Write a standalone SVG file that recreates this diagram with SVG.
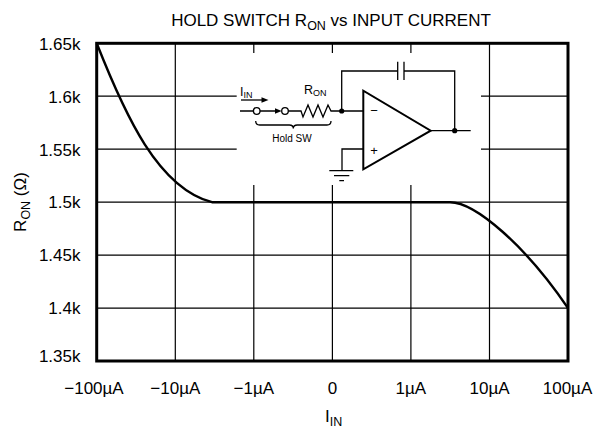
<svg xmlns="http://www.w3.org/2000/svg" width="596" height="432" viewBox="0 0 596 432">
<style>
text{font-family:"Liberation Sans",Arial,sans-serif;fill:#000}
.tk{font-size:17px}
.yt{text-anchor:end}
.xt{text-anchor:middle}
.grid{stroke:#000;stroke-width:1.2;fill:none}
.frame{stroke:#000;stroke-width:3;fill:none}
.curve{stroke:#000;stroke-width:2.4;fill:none}
.w{stroke:#000;stroke-width:1.3;fill:none}
.oa{stroke:#000;stroke-width:2;fill:none}
.dot{fill:#000}
</style>
<rect width="596" height="432" fill="#fff"/>
<text x="331" y="25.5" font-size="17" text-anchor="middle">HOLD SWITCH R<tspan font-size="12.5" dy="4">ON</tspan><tspan dy="-4"> vs INPUT CURRENT</tspan></text>
<g id="grid">
<path class="grid" d="M175.3,43.3V361M489.5,43.3V361M253.8,43.3V53M332.4,43.3V53M410.9,43.3V53M253.8,185V361M332.4,185V361M410.9,185V361"/>
<path class="grid" d="M96.7,96.2H236.7M481,96.2H568M96.7,149.2H236.7M481,149.2H568M96.7,202.2H568M96.7,255.1H568M96.7,308.1H568"/>
<rect class="frame" x="96.7" y="43.3" width="471.3" height="317.7"/>
</g>
<g id="y-ticks" class="tk yt">
<text x="80.5" y="50">1.65k</text>
<text x="80.5" y="102.5">1.6k</text>
<text x="80.5" y="155.5">1.55k</text>
<text x="80.5" y="208.3">1.5k</text>
<text x="80.5" y="261.3">1.45k</text>
<text x="80.5" y="314.3">1.4k</text>
<text x="80.5" y="362">1.35k</text>
</g>
<g id="x-ticks" class="tk xt">
<text x="94" y="393.5">−100µA</text>
<text x="175.3" y="393.5">−10µA</text>
<text x="253.8" y="393.5">−1µA</text>
<text x="332.4" y="393.5">0</text>
<text x="410.9" y="393.5">1µA</text>
<text x="489.5" y="393.5">10µA</text>
<text x="567.5" y="393.5">100µA</text>
</g>
<text x="325" y="421.5" font-size="17">I<tspan font-size="12.5" dy="4">IN</tspan></text>
<text transform="translate(25.5,202) rotate(-90)" font-size="17" text-anchor="middle">R<tspan font-size="12.5" dy="4">ON</tspan><tspan dy="-4"> (Ω)</tspan></text>
<g id="curve">
<path class="curve" d="M96.7,43.3C125,115 158,188 212,202.2H450C475,202.2 525,245 568,308.1"/>
</g>
<g id="circuit">
<path class="w" d="M240,111H253.4M260,111H276M288.3,111H301L303,117L308,105L313,117L318,105L323,117L328,105L331,111H341.7"/>
<circle class="w" cx="256.7" cy="111" r="3.3" fill="#fff"/>
<circle class="w" cx="285" cy="111" r="3.3" fill="#fff"/>
<path d="M281.7,111L275,108.3V113.7Z" class="dot"/>
<path class="w" d="M241,100H263"/>
<path d="M268.5,100L261.5,97.3V102.7Z" class="dot"/>
<text x="240" y="95.7" font-size="12.5">I<tspan font-size="9" dy="2">IN</tspan></text>
<text x="304" y="94.3" font-size="12.5">R<tspan font-size="9" dy="2">ON</tspan></text>
<path class="w" stroke-width="1" d="M255.7,121Q255.7,125 259.7,125H289.3Q293.3,125 293.3,128.5Q293.3,125 297.3,125H327Q331,125 331,121"/>
<text x="292" y="141.7" font-size="10" text-anchor="middle">Hold SW</text>
<path class="w" d="M341.7,111H363.3M341.7,111V71H397.7M404,71H454.7V130.7M430.7,130.7H470.7M363.3,149H342V170.7"/>
<path class="w" stroke-width="1.6" d="M397.7,61.7V80M404,61.7V80"/>
<path class="w" d="M329.3,170.7H353.3M334,175.7H349.3M339.3,180.7H344"/>
<polygon class="oa" points="363.3,90.7 363.3,169.3 430.7,130.7"/>
<text x="374" y="115" font-size="13" text-anchor="middle">−</text>
<text x="374" y="154.5" font-size="13" text-anchor="middle">+</text>
<circle class="dot" cx="341.7" cy="111" r="2.6"/>
<circle class="dot" cx="454.7" cy="130.7" r="2.6"/>
</g>
</svg>
